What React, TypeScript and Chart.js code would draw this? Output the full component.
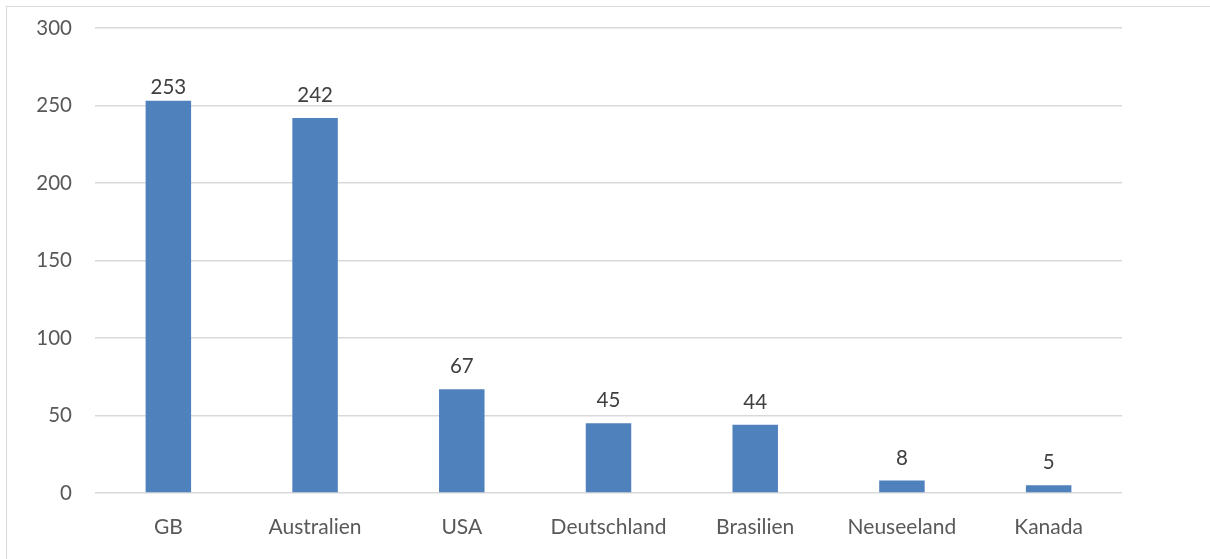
import React, { useEffect, useRef } from "react";
import { Chart, registerables } from "chart.js";

Chart.register(...registerables);

const categories = ["GB", "Australien", "USA", "Deutschland", "Brasilien", "Neuseeland", "Kanada"];
const values = [253, 242, 67, 45, 44, 8, 5];
const yTicks = [0, 50, 100, 150, 200, 250, 300];

const FONT = "Lato, 'Open Sans', sans-serif";
const TEXT = "#595959";

const dataLabels = {
  id: "dataLabels",
  afterDatasetsDraw(chart: any) {
    const ctx = chart.ctx;
    const meta = chart.getDatasetMeta(0);
    const top = chart.chartArea.top;
    ctx.save();
    ctx.font = `20.5px ${FONT}`;
    ctx.fillStyle = "#404040";
    ctx.textAlign = "center";
    ctx.textBaseline = "alphabetic";
    meta.data.forEach((el: any, i: number) => {
      // keep the label close to the bar when it would reach the plot's upper gridlines
      const y = el.y - 16 < top + 60 ? el.y - 7 : el.y - 16;
      ctx.fillText(String(values[i]), el.x, y);
    });
    ctx.restore();
  },
};

export default function App() {
  const ref = useRef<HTMLCanvasElement>(null);
  useEffect(() => {
    const chart = new Chart(ref.current!, {
      type: "bar",
      data: {
        labels: categories,
        datasets: [
          {
            data: values,
            backgroundColor: "#4F81BD",
            categoryPercentage: 1,
            barPercentage: 0.31,
          },
        ],
      },
      options: {
        animation: false,
        responsive: false,
        layout: { padding: { top: 28, right: 88, left: 0, bottom: 0 } },
        plugins: { legend: { display: false }, tooltip: { enabled: false } },
        scales: {
          x: {
            grid: { display: false },
            border: { display: false },
            ticks: { color: TEXT, font: { family: FONT, size: 21 }, padding: 14 },
            afterFit(scale: any) {
              scale.height = 66;
              scale.paddingLeft = 0;
              scale.paddingRight = 0;
            },
          },
          y: {
            min: 0,
            max: 300,
            afterBuildTicks(scale: any) {
              scale.ticks = yTicks.map((v) => ({ value: v }));
            },
            grid: { color: "#d9d9d9", lineWidth: 1.5, drawTicks: false },
            border: { display: false },
            ticks: { color: TEXT, font: { family: FONT, size: 20.5 }, padding: 23 },
            afterFit(scale: any) {
              scale.width = 95;
              scale.paddingTop = 0;
              scale.paddingBottom = 0;
            },
          },
        },
      },
      plugins: [dataLabels],
    });
    return () => chart.destroy();
  }, []);
  return (
    <div style={{ position: "fixed", left: 0, top: 0, width: 1210, height: 559, overflow: "hidden", background: "#fff" }}>
      <div
        style={{
          position: "absolute",
          left: 6,
          top: 6,
          width: 1300,
          height: 700,
          border: "1.5px solid #d9d9d9",
        }}
      />
      <canvas ref={ref} width={1210} height={559} style={{ position: "absolute", left: 0, top: 0, width: 1210, height: 559 }} />
    </div>
  );
}
